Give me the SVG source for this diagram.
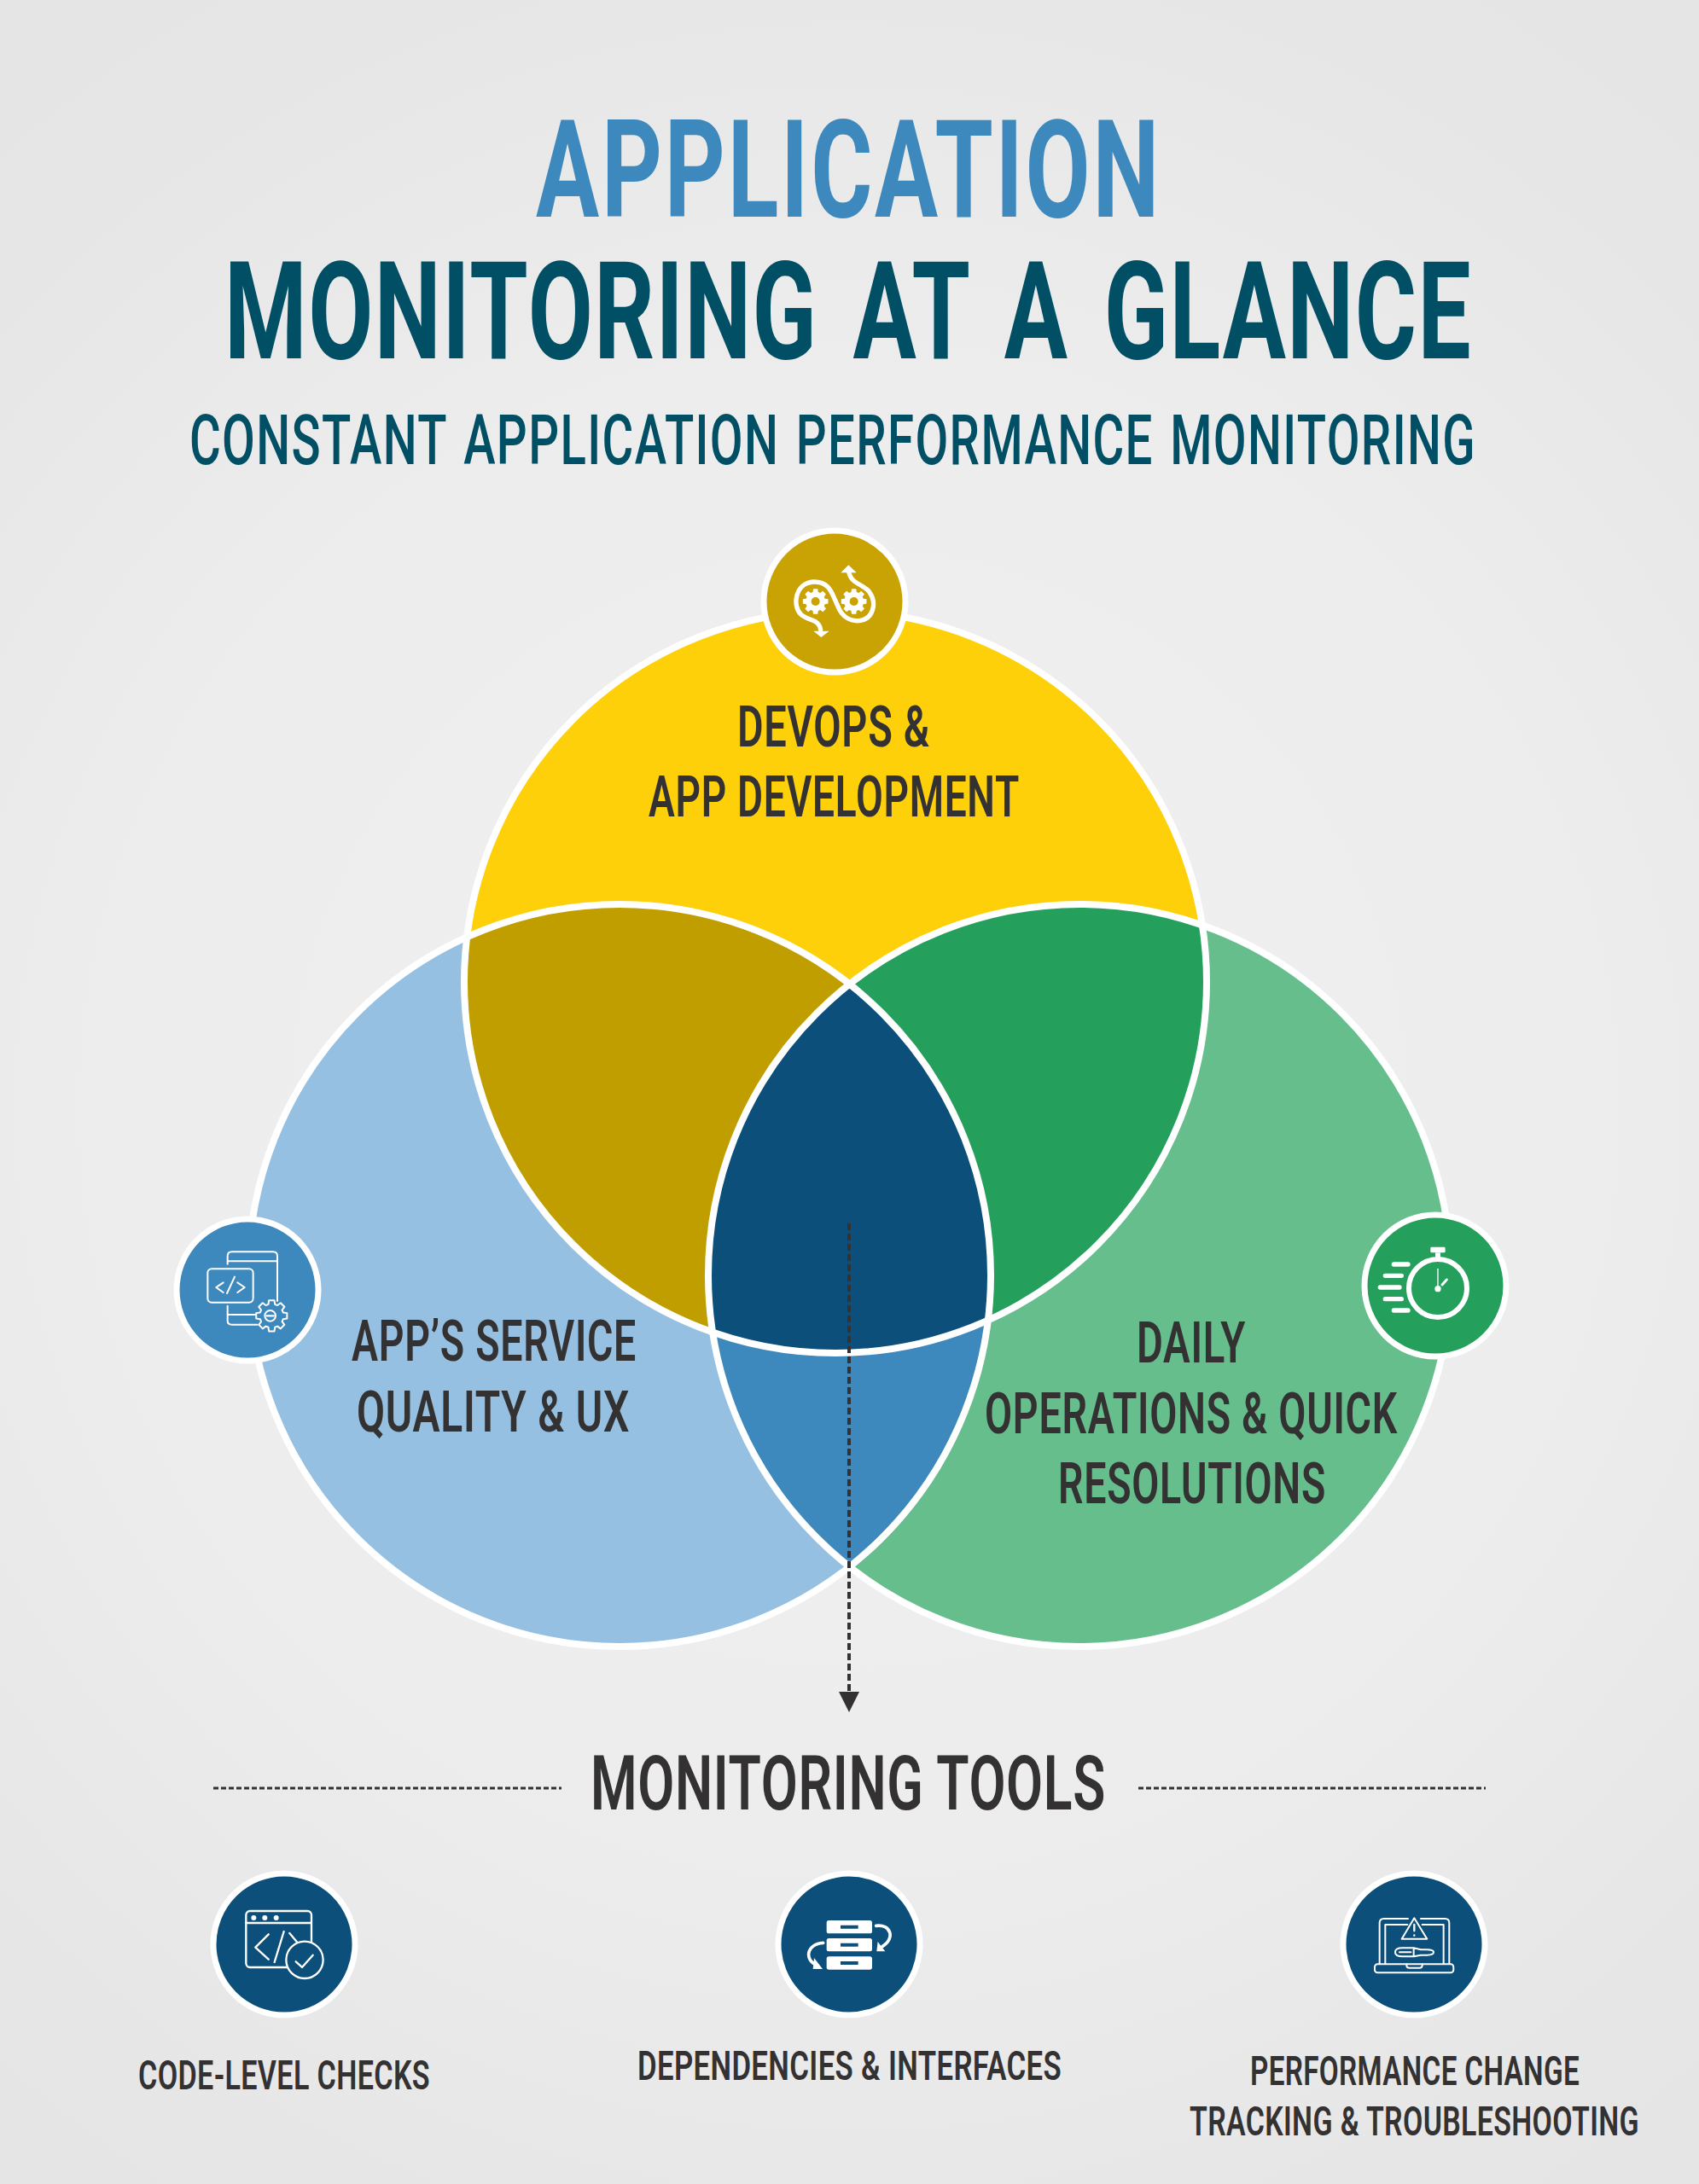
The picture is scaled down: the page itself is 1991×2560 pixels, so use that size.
<svg xmlns="http://www.w3.org/2000/svg" xmlns:xlink="http://www.w3.org/1999/xlink" width="1991" height="2560" viewBox="0 0 1991 2560">
<style>
text{font-family:"Roboto","Liberation Sans",sans-serif;font-weight:700;text-anchor:start}
.t1{font-size:160px;fill:#3d88bc;letter-spacing:4px}
.t2{font-size:160px;fill:#004f65;letter-spacing:2px;word-spacing:18px}
.t3{font-size:82px;fill:#004f65;font-weight:500;letter-spacing:2px;word-spacing:6px}
.lab{font-size:66px;fill:#333132;font-weight:600;letter-spacing:1px}
.hd{font-size:89px;fill:#333132;font-weight:600;letter-spacing:1px}
.sm{font-size:48px;fill:#333132;font-weight:600;letter-spacing:.5px}
.ring{stroke:#fff;stroke-width:8;fill:none}
.badge{stroke:#fff;stroke-width:7}
.ln{fill:none;stroke:#fff;stroke-linecap:round;stroke-linejoin:round}
.wf{fill:#fff}
.dash{stroke:#333132;fill:none}
</style>
<defs>
<radialGradient id="bg" gradientUnits="userSpaceOnUse" cx="995" cy="1300" r="1500">
<stop offset="0" stop-color="#f1f1f1"/><stop offset=".55" stop-color="#ededed"/><stop offset="1" stop-color="#e5e5e5"/>
</radialGradient>
<clipPath id="cy"><circle cx="979" cy="1151" r="435"/></clipPath>
<clipPath id="cb"><circle cx="726" cy="1495" r="435"/></clipPath>
<clipPath id="cg"><circle cx="1265" cy="1495" r="435"/></clipPath>
<marker id="head" markerUnits="userSpaceOnUse" markerWidth="26" markerHeight="26" refX="0" refY="12" orient="auto"><path d="M0 0L24 12L0 24Z" fill="#333132"/></marker>
<path id="gear" d="M40.4-11.6L54.2-9.6V9.6L40.4 11.6L36.8 20.4L45.1 31.5L31.5 45.1L20.4 36.8L11.6 40.4L9.6 54.2H-9.6L-11.6 40.4L-20.4 36.8L-31.5 45.1L-45.1 31.5L-36.8 20.4L-40.4 11.6L-54.2 9.6V-9.6L-40.4-11.6L-36.8-20.4L-45.1-31.5L-31.5-45.1L-20.4-36.8L-11.6-40.4L-9.6-54.2H9.6L11.6-40.4L20.4-36.8L31.5-45.1L45.1-31.5L36.8-20.4Z"/>
</defs>
<rect id="background" width="1991" height="2560" fill="url(#bg)"/>
<g id="title">
<text class="t1" x="628" y="254" textLength="733" lengthAdjust="spacingAndGlyphs">APPLICATION</text>
<text class="t2" x="263" y="420" textLength="1462" lengthAdjust="spacingAndGlyphs">MONITORING AT A GLANCE</text>
<text class="t3" x="222" y="544" textLength="1508" lengthAdjust="spacingAndGlyphs">CONSTANT APPLICATION PERFORMANCE MONITORING</text>
</g>
<g id="venn">
<circle cx="979" cy="1151" r="435" fill="#fdd00a"/>
<circle cx="726" cy="1495" r="435" fill="#95c0e1"/>
<circle cx="1265" cy="1495" r="435" fill="#66be8c"/>
<g clip-path="url(#cy)"><circle cx="726" cy="1495" r="435" fill="#c19e00"/><circle cx="1265" cy="1495" r="435" fill="#259f5c"/></g>
<g clip-path="url(#cb)"><circle cx="1265" cy="1495" r="435" fill="#3d88bc"/></g>
<g clip-path="url(#cy)"><g clip-path="url(#cb)"><circle cx="1265" cy="1495" r="435" fill="#0b4f7a"/></g></g>
<circle class="ring" cx="979" cy="1151" r="435"/>
<circle class="ring" cx="726" cy="1495" r="435"/>
<circle class="ring" cx="1265" cy="1495" r="435"/>
</g>
<g id="connectors">
<path d="M995 1434V1983" class="dash" stroke-width="4" stroke-dasharray="8 4" marker-end="url(#head)"/>
<path d="M250 2096H658" class="dash" stroke-width="3" stroke-dasharray="6 3"/>
<path d="M1334 2096H1741" class="dash" stroke-width="3" stroke-dasharray="6 3"/>
</g>
<g id="node-devops">
<circle class="badge" cx="978" cy="705" r="83" fill="#c9a204"/>
<g transform="translate(850 600) scale(.3333)">
<path class="ln" stroke-width="16" d="M335 415C330 375 290 385 265 360C235 330 245 250 310 246C370 245 375 290 395 330C410 370 440 385 470 383C520 378 535 320 505 280C480 250 440 255 433 205"/>
<path class="wf" d="M433 187L461 214L406 214ZM337 441L365 419L310 419Z"/>
<use xlink:href="#gear" href="#gear" class="wf" transform="translate(317 315) scale(.82)"/><circle cx="317" cy="315" r="15" fill="#c9a204"/>
<use xlink:href="#gear" href="#gear" class="wf" transform="translate(452 315) scale(.82)"/><circle cx="452" cy="315" r="15" fill="#c9a204"/>
</g>
<text class="lab" x="864" y="875" textLength="226" lengthAdjust="spacingAndGlyphs">DEVOPS &amp;</text>
<text class="lab" x="760" y="957" textLength="435" lengthAdjust="spacingAndGlyphs">APP DEVELOPMENT</text>
</g>
<g id="node-service">
<circle class="badge" cx="290" cy="1512" r="83" fill="#3d88bc"/>
<g transform="translate(190 1410) scale(.3333)">
<g class="ln" stroke-width="6">
<path d="M230 215V187Q230 172 245 172H390Q405 172 405 187V345M230 205H405M230 362V415Q230 428 245 428H335M230 393H330"/>
<rect x="160" y="232" width="160" height="118" rx="14"/>
<path d="M215 280L190 297L215 315M265 280L290 297L265 315M255 260L228 318"/>
<use xlink:href="#gear" href="#gear" fill="#3d88bc" stroke="#fff" stroke-width="6" transform="translate(385 397)"/>
<circle cx="380" cy="397" r="19"/>
<path d="M368 397H392" stroke-width="7"/>
</g>
</g>
<text class="lab" x="412" y="1595" textLength="334" lengthAdjust="spacingAndGlyphs">APP’S SERVICE</text>
<text class="lab" x="418" y="1678" textLength="320" lengthAdjust="spacingAndGlyphs">QUALITY &amp; UX</text>
</g>
<g id="node-operations">
<circle class="badge" cx="1682" cy="1507" r="83" fill="#259f5c"/>
<g transform="translate(1580 1410) scale(.3333)">
<circle cx="315" cy="300" r="102" fill="none" stroke="#fff" stroke-width="18"/>
<rect class="wf" x="289" y="155" width="52" height="20" rx="4"/><rect class="wf" x="306" y="175" width="18" height="20"/>
<path class="ln" stroke-width="4" d="M315 232V300"/><circle class="wf" cx="315" cy="302" r="11"/>
<path class="ln" stroke-width="9" d="M330 288L346 270"/>
<path class="ln" stroke-width="16" d="M160 216H210M130 256H187M112 297H180M130 338H187M160 378H210"/>
</g>
<text class="lab" x="1332" y="1597" textLength="128" lengthAdjust="spacingAndGlyphs">DAILY</text>
<text class="lab" x="1154" y="1680" textLength="484" lengthAdjust="spacingAndGlyphs">OPERATIONS &amp; QUICK</text>
<text class="lab" x="1240" y="1762" textLength="314" lengthAdjust="spacingAndGlyphs">RESOLUTIONS</text>
</g>
<text id="tools-heading" class="hd" x="692" y="2121" textLength="604" lengthAdjust="spacingAndGlyphs">MONITORING TOOLS</text>
<g id="node-code">
<circle class="badge" cx="333" cy="2279" r="83" fill="#0b4f7a"/>
<g transform="translate(230 2180) scale(.3333)">
<g class="ln" stroke-width="7">
<rect x="175" y="180" width="230" height="198" rx="14"/><path d="M175 222H405M254 262L208 308L254 350M275 360L308 252M328 258L355 290"/>
<circle cx="381" cy="352" r="65" fill="#0b4f7a"/><path d="M350 358L372 378L410 335"/>
</g>
<circle class="wf" cx="202" cy="204" r="9"/><circle class="wf" cx="241" cy="204" r="9"/><circle class="wf" cx="281" cy="204" r="9"/>
</g>
<text class="sm" x="162" y="2449" textLength="342" lengthAdjust="spacingAndGlyphs">CODE-LEVEL CHECKS</text>
</g>
<g id="node-dependencies">
<circle class="badge" cx="995" cy="2279" r="83" fill="#0b4f7a"/>
<g transform="translate(890 2180) scale(.3333)">
<path class="wf" fill-rule="evenodd" d="M244 213H388Q396 213 396 221V251Q396 259 388 259H244Q236 259 236 251V221Q236 213 244 213ZM285 230V242H347V230ZM244 276H388Q396 276 396 284V314Q396 322 388 322H244Q236 322 236 314V284Q236 276 244 276ZM285 293V305H347V293ZM244 340H388Q396 340 396 348V378Q396 386 388 386H244Q236 386 236 378V348Q236 340 244 340ZM285 357V369H347V357Z"/>
<path class="ln" stroke-width="11" d="M410 232C460 225 480 275 432 305M224 292C165 295 155 355 205 372"/>
<path class="wf" d="M416 288L442 322L412 322ZM192 345L222 384L188 384Z"/>
</g>
<text class="sm" x="747" y="2438" textLength="497" lengthAdjust="spacingAndGlyphs">DEPENDENCIES &amp; INTERFACES</text>
</g>
<g id="node-performance">
<circle class="badge" cx="1657" cy="2279" r="83" fill="#0b4f7a"/>
<g transform="translate(1555 2180) scale(.3333)">
<g class="ln" stroke-width="6">
<path d="M285 207H200Q185 207 185 222V365M330 207H415Q430 207 430 222V365M283 228H205V365M335 228H410V365"/>
<rect x="168" y="367" width="277" height="30" rx="10"/>
<path d="M280 367V372Q280 380 290 380H325Q335 380 335 372V367"/>
<path d="M307 205L352 278H263Z"/><path d="M307 228V250M307 265V266" stroke-width="7"/>
<path d="M305 310H265Q240 310 240 325Q240 340 265 340H305V310L330 316H352Q375 316 375 325Q375 335 352 335H330L305 340M255 325H295"/>
</g>
</g>
<text class="sm" x="1465" y="2444" textLength="386" lengthAdjust="spacingAndGlyphs">PERFORMANCE CHANGE</text>
<text class="sm" x="1394" y="2503" textLength="527" lengthAdjust="spacingAndGlyphs">TRACKING &amp; TROUBLESHOOTING</text>
</g>
</svg>
